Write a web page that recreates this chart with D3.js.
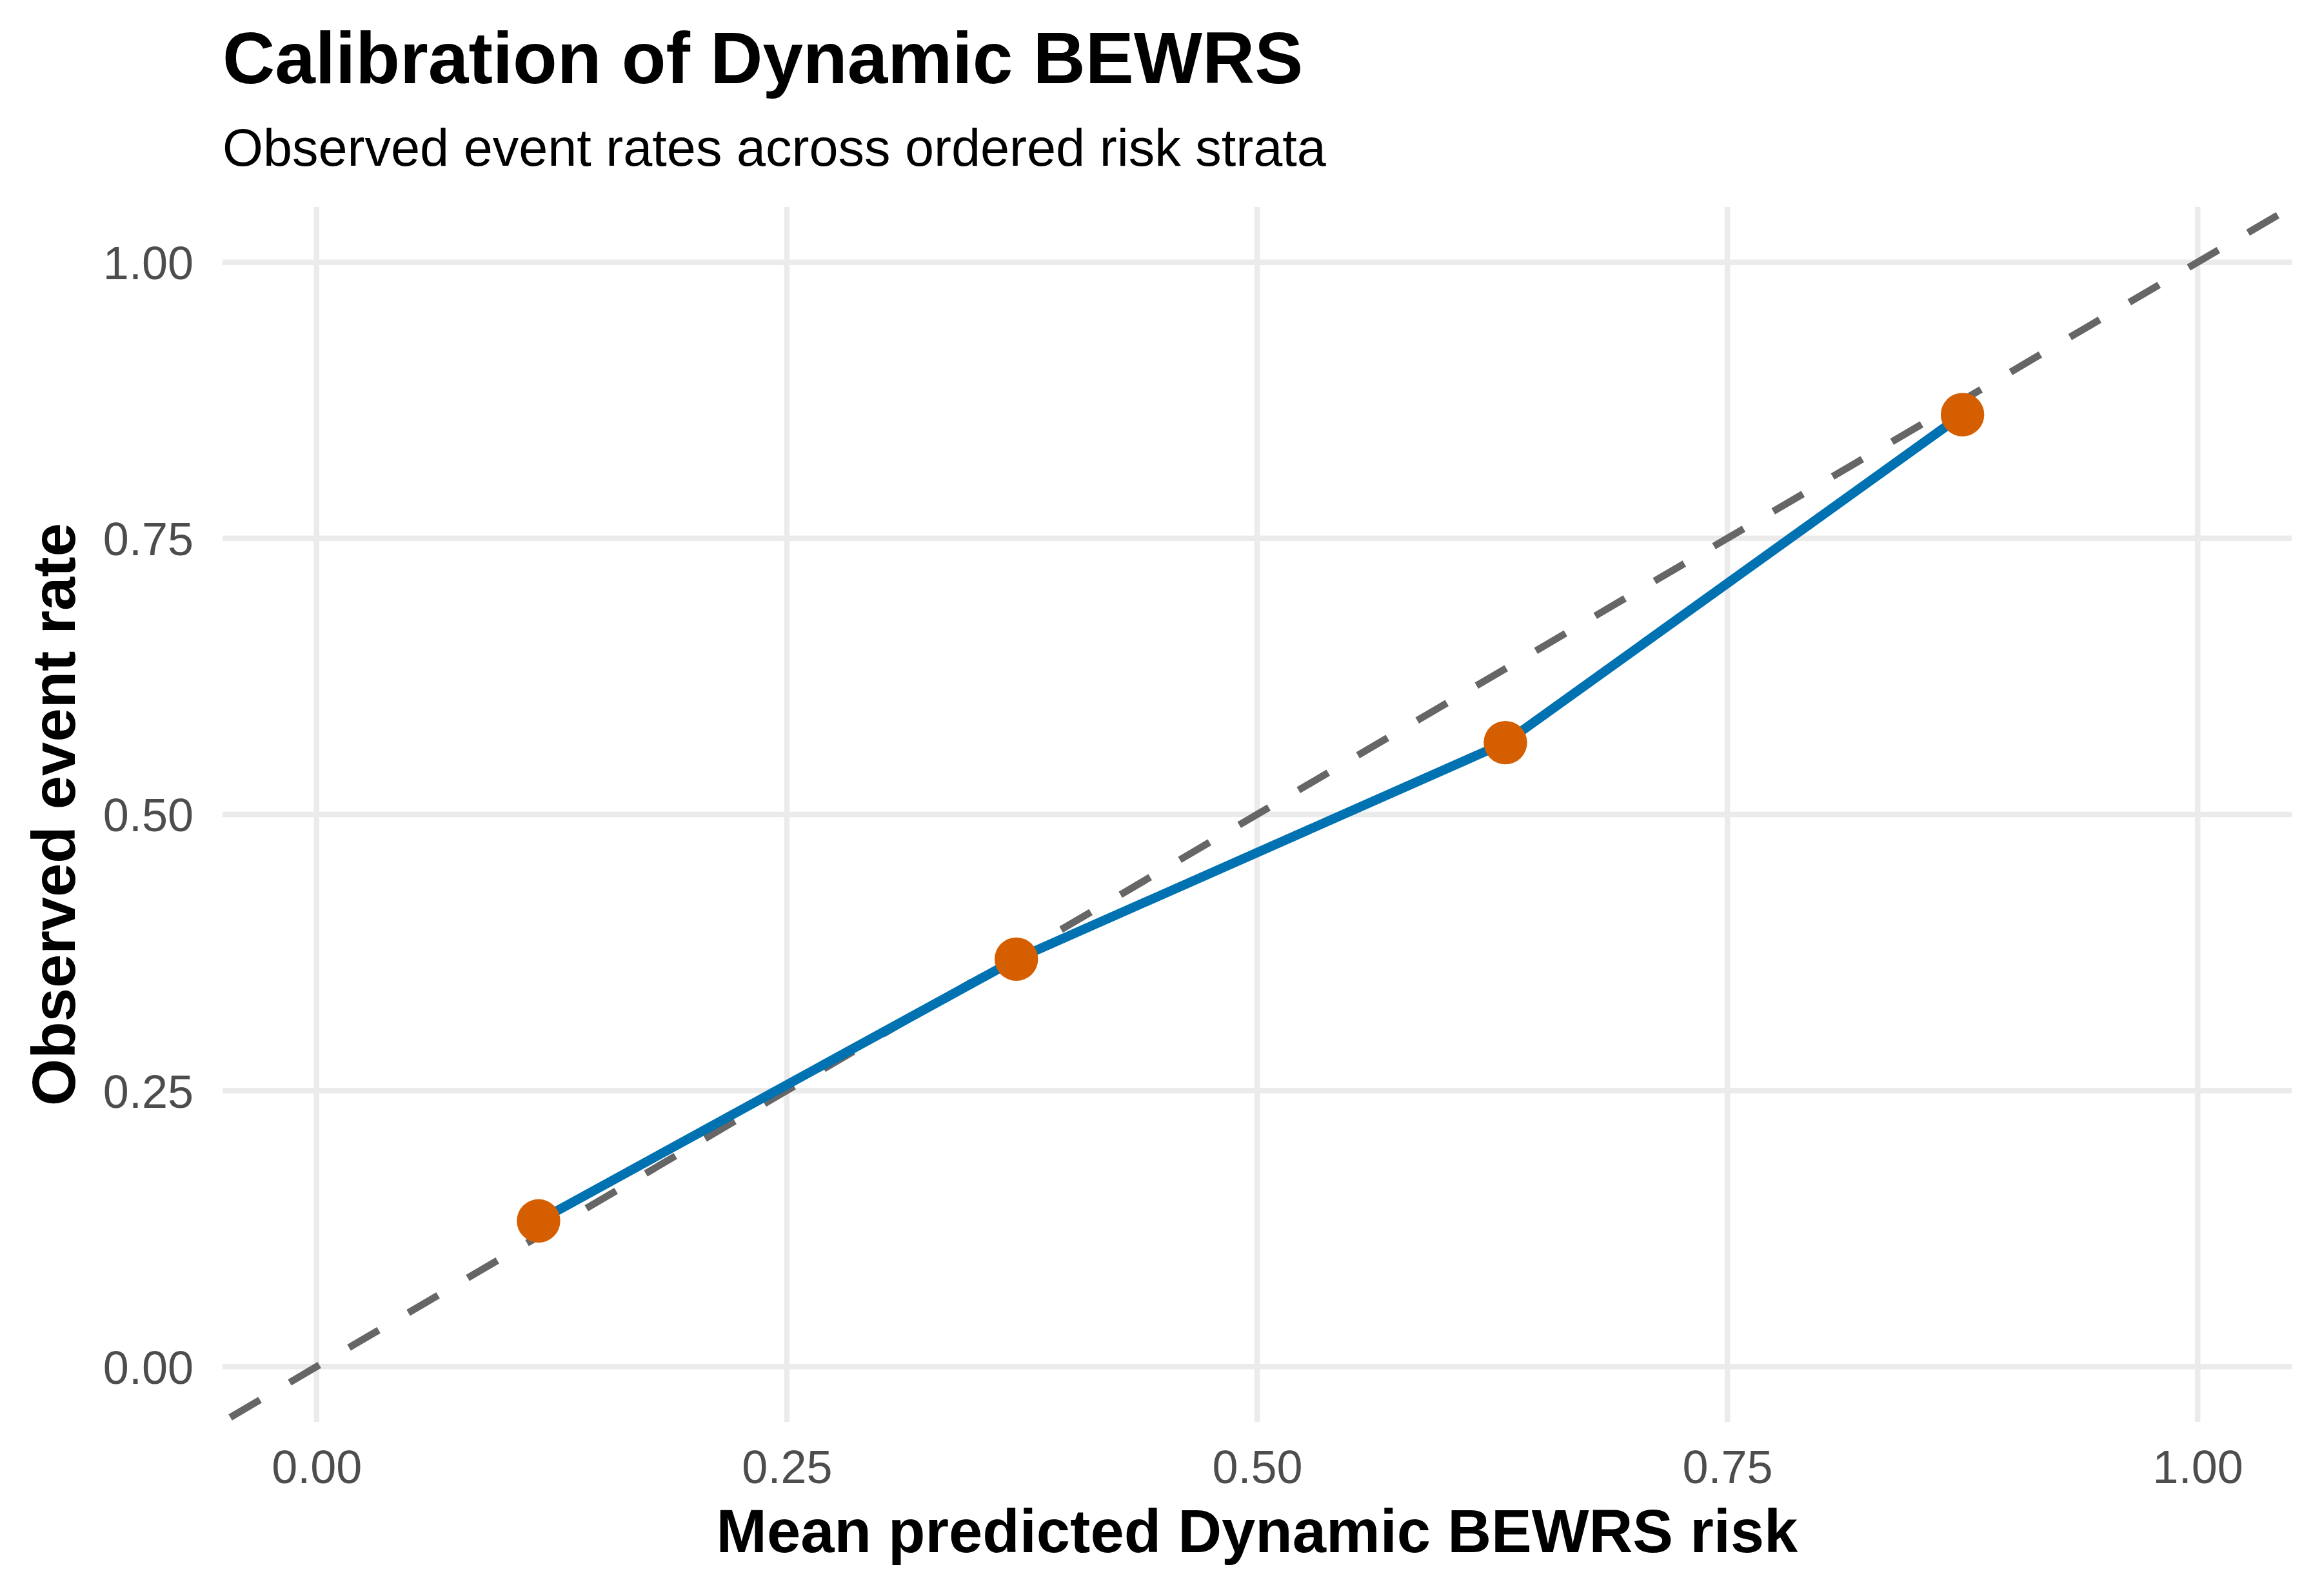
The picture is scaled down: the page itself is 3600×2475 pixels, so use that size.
<!DOCTYPE html>
<html>
<head>
<meta charset="utf-8">
<script src="https://cdn.jsdelivr.net/npm/d3@7"></script>
<style>
  html, body { margin: 0; padding: 0; background: #ffffff; }
  svg { display: block; }
  text { font-family: "Liberation Sans", Arial, Helvetica, sans-serif; }
</style>
</head>
<body>
<div id="chart"></div>
<script>
// calibration data: one point per ordered risk stratum
const predictedRisk = [0.118, 0.372, 0.632, 0.875];
const observedRate  = [0.132, 0.369, 0.565, 0.862];

const tickValues = [0, 0.25, 0.5, 0.75, 1];
const tickLabels = ["0.00", "0.25", "0.50", "0.75", "1.00"];

const chartTitle    = "Calibration of Dynamic BEWRS";
const chartSubtitle = "Observed event rates across ordered risk strata";
const xTitle = "Mean predicted Dynamic BEWRS risk";
const yTitle = "Observed event rate";

const width = 3600, height = 2475;
const margin = { top: 321, right: 47, bottom: 270, left: 345 };

const svg = d3.select("#chart")
  .append("svg")
  .attr("width", width)
  .attr("height", height)
  .attr("viewBox", `0 0 ${width} ${height}`);

svg.append("rect")
  .attr("width", width)
  .attr("height", height)
  .attr("fill", "#ffffff");

const x = d3.scaleLinear()
  .domain([-0.05, 1.05])
  .range([margin.left, width - margin.right]);

const y = d3.scaleLinear()
  .domain([-0.05, 1.05])
  .range([height - margin.bottom, margin.top]);

const points = predictedRisk.map((p, i) => ({ p, o: observedRate[i] }));

// --- grid lines ---
const grid = svg.append("g").attr("class", "grid");

grid.selectAll("line.h")
  .data(tickValues)
  .enter()
  .append("line")
  .attr("class", "h")
  .attr("x1", x.range()[0])
  .attr("x2", x.range()[1])
  .attr("y1", d => y(d))
  .attr("y2", d => y(d))
  .attr("stroke", "#EBEBEB")
  .attr("stroke-width", 8.5);

grid.selectAll("line.v")
  .data(tickValues)
  .enter()
  .append("line")
  .attr("class", "v")
  .attr("y1", y.range()[0])
  .attr("y2", y.range()[1])
  .attr("x1", d => x(d))
  .attr("x2", d => x(d))
  .attr("stroke", "#EBEBEB")
  .attr("stroke-width", 8.5);

// --- axes (labels only, no ticks / domain) ---
const fmt = d => tickLabels[tickValues.indexOf(d)];

const xAxis = svg.append("g")
  .attr("transform", `translate(0,${y.range()[0]})`)
  .call(d3.axisBottom(x).tickValues(tickValues).tickFormat(fmt).tickSize(0).tickPadding(44));

const yAxis = svg.append("g")
  .attr("transform", `translate(${x.range()[0]},0)`)
  .call(d3.axisLeft(y).tickValues(tickValues).tickFormat(fmt).tickSize(0).tickPadding(45));

[xAxis, yAxis].forEach(a => {
  a.select(".domain").remove();
  a.selectAll("text")
    .attr("font-family", "'Liberation Sans', Arial, Helvetica, sans-serif")
    .attr("font-size", 72)
    .attr("fill", "#4D4D4D");
});
yAxis.selectAll("text").attr("dy", "0.36em");

// --- reference diagonal (perfect calibration) ---
const diag = x.domain();
svg.append("line")
  .attr("x1", x(diag[0]))
  .attr("y1", y(diag[0]))
  .attr("x2", x(diag[1]))
  .attr("y2", y(diag[1]))
  .attr("stroke", "#666666")
  .attr("stroke-width", 11)
  .attr("stroke-dasharray", "53.4 53.3")
  .attr("stroke-dashoffset", 92.7);

// --- calibration curve ---
const line = d3.line()
  .x(d => x(d.p))
  .y(d => y(d.o));

svg.append("path")
  .datum(points)
  .attr("d", line)
  .attr("fill", "none")
  .attr("stroke", "#0072B2")
  .attr("stroke-width", 14.5)
  .attr("stroke-linejoin", "round");

svg.selectAll("circle.pt")
  .data(points)
  .enter()
  .append("circle")
  .attr("class", "pt")
  .attr("cx", d => x(d.p))
  .attr("cy", d => y(d.o))
  .attr("r", 33.7)
  .attr("fill", "#D55E00");

// --- titles ---
svg.append("text")
  .attr("x", x.range()[0])
  .attr("y", 129)
  .attr("font-size", 112.5)
  .attr("font-weight", "bold")
  .attr("fill", "#000000")
  .text(chartTitle);

svg.append("text")
  .attr("x", x.range()[0])
  .attr("y", 257)
  .attr("font-size", 81)
  .attr("fill", "#000000")
  .text(chartSubtitle);

svg.append("text")
  .attr("x", (x.range()[0] + x.range()[1]) / 2)
  .attr("y", 2407)
  .attr("text-anchor", "middle")
  .attr("font-size", 94)
  .attr("font-weight", "bold")
  .attr("fill", "#000000")
  .text(xTitle);

svg.append("text")
  .attr("transform", `translate(116,${(y.range()[0] + y.range()[1]) / 2}) rotate(-90)`)
  .attr("text-anchor", "middle")
  .attr("font-size", 94)
  .attr("font-weight", "bold")
  .attr("fill", "#000000")
  .text(yTitle);
</script>
</body>
</html>
